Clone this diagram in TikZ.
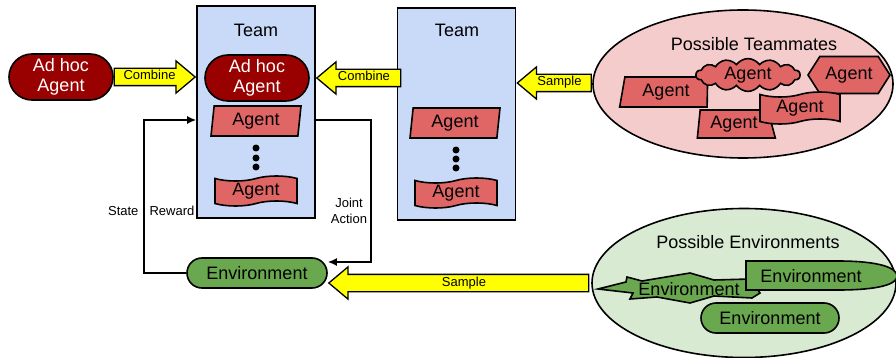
\documentclass[tikz,border=0pt]{standalone}
\usepackage{fontspec}
\setmainfont{Liberation Sans}
\usetikzlibrary{calc,arrows.meta,shapes.geometric,shapes.misc,shapes.symbols,shapes.arrows}

\definecolor{teamblue}{HTML}{C9DAF8}
\definecolor{agentred}{HTML}{E06666}
\definecolor{adhocred}{HTML}{990000}
\definecolor{pinkbg}{HTML}{F4CCCC}
\definecolor{greenbg}{HTML}{D9EAD3}
\definecolor{envgreen}{HTML}{6AA84F}
\definecolor{arrowyellow}{HTML}{FFFF00}

\tikzset{
	big/.style={font=\fontsize{18}{20}\selectfont},
	small/.style={font=\fontsize{13}{16}\selectfont},
	outline/.style={draw=black, line width=1.6pt},
	teambox/.style={outline, fill=teamblue, minimum width=118pt, minimum height=212pt},
	adhoc/.style={outline, rounded rectangle, fill=adhocred, text=white, big, align=center,
		minimum width=104pt, minimum height=46pt, inner sep=0pt},
	agentpar/.style={outline, trapezium, trapezium left angle=79, trapezium right angle=101,
		trapezium stretches body, fill=agentred, big, minimum width=90pt, minimum height=30pt, inner sep=0pt},
	agentwave/.style={outline, tape, fill=agentred, big, minimum width=82pt, minimum height=30pt, inner sep=0pt},
	envbox/.style={outline, rounded rectangle, fill=envgreen, big, minimum width=140pt, minimum height=30pt, inner sep=0pt},
	fatarrow/.style={draw=black, line width=1.3pt, fill=arrowyellow, single arrow,
		single arrow head extend=7.5pt, single arrow tip angle=80, small,
		text height=9pt, text depth=3pt, inner ysep=2pt, inner xsep=2pt},
	link/.style={line width=1.6pt, -{Latex[length=9pt,width=8pt]}},
}

\begin{document}
\begin{tikzpicture}[x=1pt, y=-1pt]
	\useasboundingbox (0,0) rectangle (896,358);
	
	%%%%% teams %%%%%
	\node[teambox] (team1) at (256,112) {};
	\node[big] (team1lbl) at (256,30) {Team};
	\node[teambox] (team2) at (456.5,114) {};
	\node[big] (team2lbl) at (457,30) {Team};
	
	\node[adhoc] (adhoc) at (61,77) {Ad hoc\\Agent};
	\node[adhoc] (adhocin) at (257,78) {Ad hoc\\Agent};
	
	\node[agentpar] (ag1) at (256,121) {Agent};
	\foreach \y in {148,158,167} \fill (256,\y) circle (3.5pt);
	\node[agentwave] (ag2) at (256,191) {Agent};
	
	\node[agentpar] (ag3) at (455,123) {Agent};
	\foreach \y in {150,159,168} \fill (456,\y) circle (3.5pt);
	\node[agentwave] (ag4) at (456,193) {Agent};
	
	%%%%% possible teammates %%%%%
	\node[outline, ellipse, fill=pinkbg, minimum width=300pt, minimum height=148pt, inner sep=0pt] (mates) at (743,84) {};
	\node[big] (mateslbl) at (754,44) {Possible Teammates};
	\node[outline, trapezium, trapezium left angle=72, trapezium right angle=92, trapezium stretches body,
		fill=agentred, big, minimum width=88pt, minimum height=30pt, inner sep=0pt] (pt1) at (666,92) {Agent};
	\node[outline, cloud, cloud puffs=14, cloud puff arc=110, aspect=4, fill=agentred, big,
		minimum width=104pt, minimum height=28pt, inner sep=0pt] (pt2) at (748,75) {Agent};
	\node[outline, signal, signal to=east and west, signal pointer angle=115, fill=agentred, big,
		minimum width=82pt, minimum height=37pt, inner sep=0pt] (pt3) at (849,75) {Agent};
	\node[outline, trapezium, trapezium left angle=80, trapezium right angle=65, trapezium stretches body,
		fill=agentred, big, minimum width=78pt, minimum height=28pt, inner sep=0pt] (pt5) at (734,124) {Agent};
	\node[agentwave, minimum width=80pt, minimum height=32pt] (pt4) at (800,108) {Agent};
	
	%%%%% possible environments %%%%%
	\node[outline, ellipse, fill=greenbg, minimum width=304pt, minimum height=149pt, inner sep=0pt] (envs) at (744,283) {};
	\node[big] (envslbl) at (748,242) {Possible Environments};
	\draw[outline, fill=envgreen] (598,289) -- (626,282) -- (627,277) -- (642,281) -- (690,273) -- (714,280)
		-- (750,279) -- (760,293) -- (752,298) -- (714,296) -- (690,303) -- (657,297) -- (630,299) -- (633,293) -- cycle;
	\node[big] (pe1) at (689,289) {Environment};
	\draw[outline, fill=envgreen] (746,261) -- (838,261) .. controls (880,261) and (897,268) .. (897,276)
		.. controls (897,284) and (880,290) .. (838,290) -- (746,290) -- cycle;
	\node[big] (pe2) at (811,276) {Environment};
	\node[envbox, minimum width=138pt] (pe3) at (770,318) {Environment};
	
	\node[envbox] (env) at (257,273) {Environment};
	
	%%%%% combine / sample arrows %%%%%
	\node[fatarrow, minimum height=81pt, anchor=tip] (comb1) at (team1.west |- adhoc) {Combine};
	\node[fatarrow, shape border rotate=180, minimum height=84pt, anchor=tip] (comb2) at (team1.east |- adhocin) {Combine};
	\node[fatarrow, shape border rotate=180, minimum height=74pt, anchor=tip] (samp1) at (team2.east |- 0,83) {Sample};
	\node[fatarrow, shape border rotate=180, minimum height=260pt, anchor=tip] (samp2) at (env.east |- 0,283) {Sample};
	
	%%%%% loop with the environment %%%%%
	\draw[link] (env.west) -- (144,273) -- (144,120) -- (team1.west |- 0,120);
	\draw[link] (team1.east |- 0,120) -- (371,120) -- (371,262) -- (env.east |- 0,262);
	\node[small, anchor=east] (statelbl) at (142,211) {State};
	\node[small, anchor=west] (rewardlbl) at (146,211) {Reward};
	\node[small, align=center] (actlbl) at (349,211) {Joint\\Action};
\end{tikzpicture}
\end{document}
